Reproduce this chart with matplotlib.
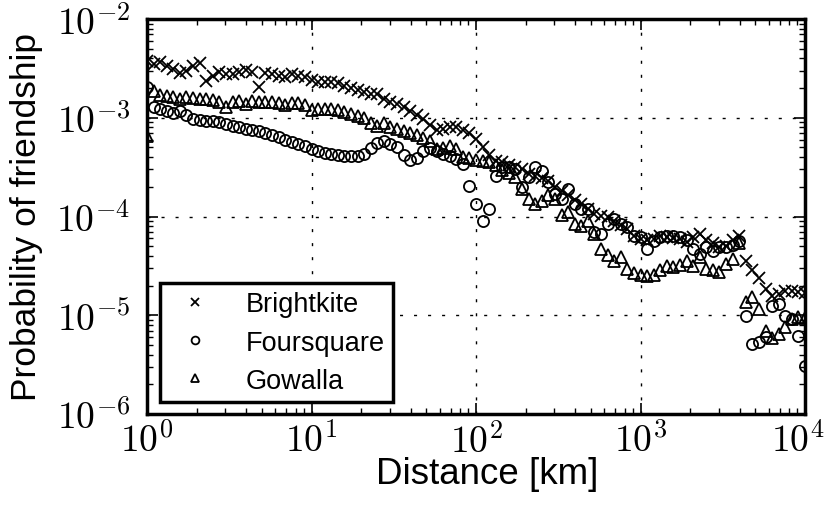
import matplotlib
matplotlib.use("Agg")
import matplotlib.pyplot as plt
from matplotlib.ticker import FuncFormatter
from matplotlib.transforms import ScaledTranslation
import numpy as np

# Distance bins (km), log-spaced, 25 per decade
distance_km = [
    1.0, 1.096, 1.202, 1.318, 1.445, 1.585, 1.738, 1.905, 2.089, 2.291, 2.512, 2.754, 3.020, 3.311, 3.631, 3.981, 4.365, 4.786, 5.248, 5.754, 6.310, 6.918, 7.586, 8.318, 9.120,
    10.0, 10.96, 12.02, 13.18, 14.45, 15.85, 17.38, 19.05, 20.89, 22.91, 25.12, 27.54, 30.20, 33.11, 36.31, 39.81, 43.65, 47.86, 52.48, 57.54, 63.10, 69.18, 75.86, 83.18, 91.20,
    100.0, 109.6, 120.2, 131.8, 144.5, 158.5, 173.8, 190.5, 208.9, 229.1, 251.2, 275.4, 302.0, 331.1, 363.1, 398.1, 436.5, 478.6, 524.8, 575.4, 631.0, 691.8, 758.6, 831.8, 912.0,
    1000.0, 1096, 1202, 1318, 1445, 1585, 1738, 1905, 2089, 2291, 2512, 2754, 3020, 3311, 3631, 3981, 4365, 4786, 5248, 5754, 6310, 6918, 7586, 8318, 9120,
    10000.0,
]

brightkite = [
    3.76e-3, 3.50e-3, 3.67e-3, 3.35e-3, 3.12e-3, 2.84e-3, 2.98e-3, 3.35e-3, 3.59e-3, 2.35e-3,
    2.65e-3, 2.91e-3, 2.77e-3, 2.77e-3, 2.91e-3, 3.05e-3, 2.91e-3, 2.05e-3, 2.84e-3, 2.77e-3,
    2.65e-3, 2.58e-3, 2.77e-3, 2.65e-3, 2.58e-3, 2.41e-3, 2.30e-3, 2.30e-3, 2.30e-3, 2.25e-3,
    2.09e-3, 2.00e-3, 1.91e-3, 1.82e-3, 1.73e-3, 1.73e-3, 1.55e-3, 1.45e-3, 1.37e-3, 1.28e-3,
    1.17e-3, 1.07e-3, 9.72e-4, 8.45e-4, 7.52e-4, 7.70e-4, 8.07e-4, 8.07e-4, 7.52e-4, 7.01e-4,
    6.10e-4, 5.06e-4, 4.20e-4, 3.65e-4, 3.57e-4, 3.33e-4, 3.18e-4, 3.03e-4, 2.69e-4, 2.57e-4,
    2.45e-4, 2.29e-4, 1.99e-4, 1.81e-4, 1.65e-4, 1.47e-4, 1.34e-4, 1.19e-4, 1.06e-4, 1.01e-4,
    9.89e-5, 9.01e-5, 8.21e-5, 7.48e-5, 6.35e-5, 5.92e-5, 5.78e-5, 5.92e-5, 6.35e-5, 6.20e-5,
    6.06e-5, 5.92e-5, 5.52e-5, 6.20e-5, 6.65e-5, 5.78e-5, 5.40e-5, 4.91e-5, 5.02e-5, 5.78e-5,
    6.35e-5, 3.54e-5, 2.88e-5, 2.38e-5, 1.84e-5, 1.57e-5, 1.64e-5, 1.76e-5, 1.76e-5, 1.72e-5,
    1.68e-5,
]

foursquare = [
    2.05e-3, 1.28e-3, 1.22e-3, 1.17e-3, 1.12e-3, 1.17e-3, 1.07e-3, 9.72e-4, 9.50e-4, 9.28e-4,
    9.28e-4, 9.07e-4, 8.65e-4, 8.26e-4, 8.07e-4, 7.70e-4, 7.52e-4, 7.35e-4, 7.01e-4, 6.69e-4,
    6.39e-4, 5.96e-4, 5.69e-4, 5.43e-4, 5.18e-4, 4.82e-4, 4.60e-4, 4.39e-4, 4.29e-4, 4.20e-4,
    4.10e-4, 4.10e-4, 4.10e-4, 4.29e-4, 4.94e-4, 5.56e-4, 5.82e-4, 5.43e-4, 5.06e-4, 4.20e-4,
    3.74e-4, 3.92e-4, 4.60e-4, 4.94e-4, 4.60e-4, 4.29e-4, 4.10e-4, 3.83e-4, 3.40e-4, 2.03e-4,
    1.34e-4, 9.01e-5, 1.19e-4, 2.57e-4, 3.18e-4, 3.18e-4, 3.03e-4, 1.99e-4, 2.51e-4, 3.18e-4,
    2.89e-4, 2.23e-4, 1.69e-4, 1.51e-4, 1.90e-4, 1.34e-4, 1.19e-4, 1.19e-4, 6.97e-5, 6.65e-5,
    8.40e-5, 9.45e-5, 8.40e-5, 7.83e-5, 6.35e-5, 6.20e-5, 4.69e-5, 5.65e-5, 6.20e-5, 6.35e-5,
    6.35e-5, 6.20e-5, 5.78e-5, 4.69e-5, 4.17e-5, 4.91e-5, 4.47e-5, 4.91e-5, 4.91e-5, 5.15e-5,
    5.65e-5, 9.83e-6, 5.12e-6, 5.37e-6, 6.03e-6, 1.24e-5, 1.30e-5, 9.83e-6, 9.17e-6, 6.16e-6,
    3.07e-6,
]

gowalla = [
    6.54e-4, 1.87e-3, 1.69e-3, 1.66e-3, 1.62e-3, 1.55e-3, 1.62e-3, 1.59e-3, 1.55e-3, 1.55e-3,
    1.51e-3, 1.45e-3, 1.28e-3, 1.45e-3, 1.48e-3, 1.37e-3, 1.48e-3, 1.45e-3, 1.45e-3, 1.45e-3,
    1.41e-3, 1.34e-3, 1.41e-3, 1.41e-3, 1.34e-3, 1.19e-3, 1.22e-3, 1.22e-3, 1.22e-3, 1.19e-3,
    1.14e-3, 1.09e-3, 1.04e-3, 9.95e-4, 8.85e-4, 8.26e-4, 8.85e-4, 8.07e-4, 7.70e-4, 7.35e-4,
    7.01e-4, 6.69e-4, 6.24e-4, 5.82e-4, 4.82e-4, 4.94e-4, 5.18e-4, 4.82e-4, 4.01e-4, 3.92e-4,
    3.74e-4, 3.65e-4, 3.57e-4, 3.33e-4, 2.96e-4, 2.76e-4, 2.51e-4, 1.90e-4, 1.51e-4, 1.34e-4,
    1.44e-4, 1.65e-4, 1.51e-4, 1.04e-4, 1.11e-4, 8.40e-5, 8.02e-5, 9.01e-5, 6.65e-5, 4.69e-5,
    4.07e-5, 3.54e-5, 3.90e-5, 2.95e-5, 2.68e-5, 2.56e-5, 2.50e-5, 2.56e-5, 2.88e-5, 3.16e-5,
    3.09e-5, 3.23e-5, 3.54e-5, 3.16e-5, 3.90e-5, 2.95e-5, 2.88e-5, 2.74e-5, 3.31e-5, 3.72e-5,
    5.40e-5, 1.36e-5, 1.53e-5, 1.15e-5, 6.93e-6, 5.89e-6, 6.46e-6, 7.61e-6, 9.17e-6, 9.61e-6,
    9.39e-6,
]

series_names = ["Brightkite", "Foursquare", "Gowalla"]
x_ticks = [1e0, 1e1, 1e2, 1e3, 1e4]
y_ticks = [1e-6, 1e-5, 1e-4, 1e-3, 1e-2]

plt.rcParams["mathtext.fontset"] = "cm"
plt.rcParams["font.family"] = ["Liberation Sans", "DejaVu Sans"]

fig = plt.figure(figsize=(8.27, 5.06), dpi=100)
ax = fig.add_axes([147 / 827, 1 - 415 / 506, (805 - 147) / 827, (415 - 20) / 506])

ax.plot(distance_km, brightkite, linestyle="none", marker="x", ms=8, mew=1.3,
        color="black", label=series_names[0])
ax.plot(distance_km, foursquare, linestyle="none", marker="o", ms=8, mew=1.3,
        mfc="none", mec="black", label=series_names[1])
ax.plot(distance_km, gowalla, linestyle="none", marker="^", ms=8, mew=1.3,
        mfc="none", mec="black", label=series_names[2])

ax.set_xscale("log")
ax.set_yscale("log")
ax.set_xlim(1, 1e4)
ax.set_ylim(1e-6, 1e-2)
ax.set_xticks(x_ticks)
ax.set_yticks(y_ticks)
pow_fmt = FuncFormatter(lambda v, p: r"$10^{%d}$" % int(round(np.log10(v))))
ax.xaxis.set_major_formatter(pow_fmt)
ax.yaxis.set_major_formatter(pow_fmt)

ax.grid(True, which="major", color="black", linewidth=1.0, linestyle=(0, (2.2, 7.9)))
ax.tick_params(which="both", direction="in", top=True, right=True, labelsize=27, color="black")
ax.tick_params(which="major", length=8, width=1.2)
ax.tick_params(which="minor", length=4, width=1.0)
ax.tick_params(axis="x", which="major", pad=6)
ax.tick_params(axis="y", which="major", pad=12)
for s in ax.spines.values():
    s.set_linewidth(2.5)

ax.set_xlabel("Distance [km]", fontsize=26.5)
ax.xaxis.set_label_coords((487 - 147) / 658, (415 - 457) / 395)
ax.set_ylabel("Probability of friendship", fontsize=25.5)
ax.yaxis.set_label_coords(-(147 - 43) / 658, 0.5)

# keep the right-most x tick label inside the figure, like the reference
fig.canvas.draw()
last = ax.get_xticklabels()[-1]
last.set_transform(last.get_transform() + ScaledTranslation(-5 / 72, 0, fig.dpi_scale_trans))

leg = ax.legend(loc="lower left", bbox_to_anchor=((160 - 147) / 658, (415 - 403) / 395),
                borderaxespad=0, fontsize=19.5, markerscale=0.7,
                frameon=True, fancybox=False, framealpha=1, edgecolor="black",
                handlelength=2.0, handletextpad=0.85, borderpad=0.3, labelspacing=0.45)
leg.get_frame().set_linewidth(2.5)

fig.savefig("out.png", dpi=100)
